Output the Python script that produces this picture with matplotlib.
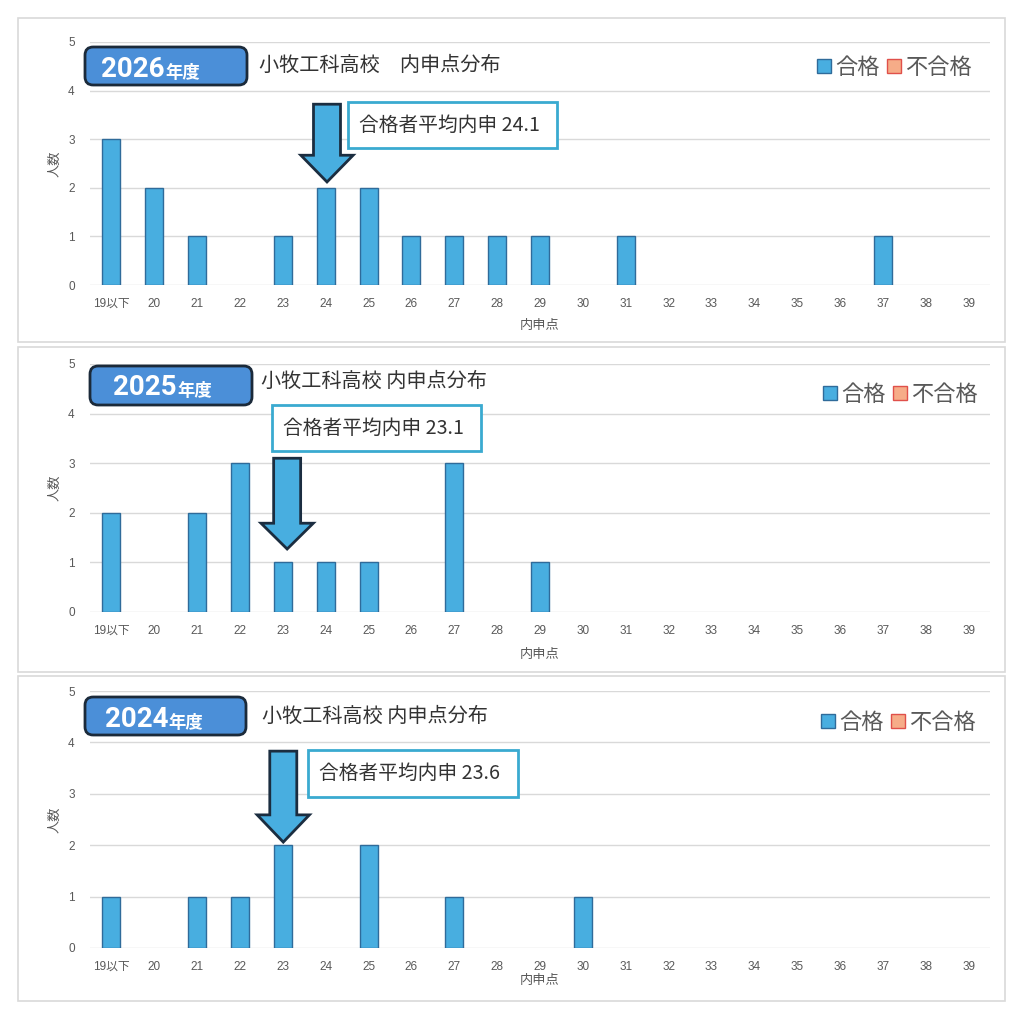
import numpy as np
import matplotlib
matplotlib.use('Agg')
import matplotlib.pyplot as plt
from matplotlib.patches import FancyBboxPatch, Rectangle, Polygon, Patch

# data
categories = ['19以下'] + [str(n) for n in range(20, 40)]
years = ['2026', '2025', '2024']
titles = ['小牧工科高校　内申点分布', '小牧工科高校 内申点分布', '小牧工科高校 内申点分布']
passed_2026 = [3, 2, 1, 0, 1, 2, 2, 1, 1, 1, 1, 0, 1, 0, 0, 0, 0, 0, 1, 0, 0]
passed_2025 = [2, 0, 2, 3, 1, 1, 1, 0, 3, 0, 1, 0, 0, 0, 0, 0, 0, 0, 0, 0, 0]
passed_2024 = [1, 0, 1, 1, 2, 0, 2, 0, 1, 0, 0, 1, 0, 0, 0, 0, 0, 0, 0, 0, 0]
failed_2026 = [0] * 21
failed_2025 = [0] * 21
failed_2024 = [0] * 21
passed = [passed_2026, passed_2025, passed_2024]
failed = [failed_2026, failed_2025, failed_2024]
mean_score = ['24.1', '23.1', '23.6']
# arrow annotation: category position, top and tip in y units
arrow_x = [5.03, 4.1, 4.01]
arrow_top = [3.72, 3.10, 3.83]
arrow_neck = [2.67, 1.79, 2.59]
arrow_tip = [2.12, 1.27, 2.06]

BLUE = '#48AEE0'
BLUE_EDGE = '#2F6B9A'
RED = '#F6AC88'
RED_EDGE = '#E0504A'
GRAY = '#595959'
GRID = '#D9D9D9'
CJK = ['Noto Sans CJK JP', 'DejaVu Sans']
MIXED = ['Liberation Sans', 'Noto Sans CJK JP']

plt.rcParams['font.family'] = CJK

W, H = 1024, 1022
fig = plt.figure(figsize=(W / 100, H / 100), dpi=100)


def fx(px):
    return px / W


def fy(py):
    return 1 - py / H


def bars(ax, xs, heights, color, edge):
    # zero counts get no bar (avoids a stray edge line on the axis)
    h = np.asarray(heights)
    keep = h > 0
    ax.bar(xs[keep], h[keep], width=0.42, color=color, edgecolor=edge, linewidth=1, zorder=3)


# layout in pixels (from top-left)
panel_box = [(18, 18, 1005, 342), (18, 347, 1005, 672), (18, 676, 1005, 1001)]
axes_box = [(90, 42, 990, 285), (90, 364, 990, 612), (90, 691, 990, 948)]
xlabel_pad = [7, 8, 1]
badge_box = [(85, 47, 247, 85), (90, 366, 252, 405), (85, 697, 246, 735)]
badge_split = [165, 177, 168]
badge_base = [77, 395, 727]
title_pos = [(259, 65), (261, 381), (262, 716)]
note_box = [(348, 102, 557, 148), (272, 405, 481, 451), (308, 750, 518, 797)]
legend_pos = [(972, 67), (978, 394), (976, 722)]

x = np.arange(len(categories))

for i in range(3):
    l, t, r, b = panel_box[i]
    fig.patches.append(Rectangle((fx(l), fy(b)), fx(r) - fx(l), fy(t) - fy(b),
                                 transform=fig.transFigure, fill=False,
                                 edgecolor=GRID, linewidth=1.2, zorder=0))

    l, t, r, b = axes_box[i]
    ax = fig.add_axes([fx(l), fy(b), fx(r) - fx(l), fy(t) - fy(b)])
    bars(ax, x, passed[i], BLUE, BLUE_EDGE)
    bars(ax, x, failed[i], RED, RED_EDGE)
    ax.set_xlim(-0.5, len(categories) - 0.5)
    ax.set_ylim(0, 5)
    ax.set_yticks(range(6))
    ax.set_xticks(x)
    ax.set_xticklabels(categories)
    ax.tick_params(length=0, labelsize=8.5, colors=GRAY)
    ax.tick_params(axis='x', pad=9)
    ax.tick_params(axis='y', pad=11)
    for lab in ax.get_xticklabels() + ax.get_yticklabels():
        lab.set_family(MIXED)
    ax.grid(axis='y', color=GRID, linewidth=1, zorder=0)
    for s in ax.spines.values():
        s.set_visible(False)
    ax.set_xlabel('内申点', fontsize=9.5, color=GRAY, labelpad=xlabel_pad[i])
    ax.set_ylabel('人数', fontsize=9.5, color=GRAY, labelpad=5)

    # arrow pointing at average
    cx = arrow_x[i]
    sw, hw = 0.315, 0.61
    pts = [(cx - sw, arrow_top[i]), (cx + sw, arrow_top[i]), (cx + sw, arrow_neck[i]),
           (cx + hw, arrow_neck[i]), (cx, arrow_tip[i]), (cx - hw, arrow_neck[i]),
           (cx - sw, arrow_neck[i])]
    ax.add_patch(Polygon(pts, closed=True, facecolor=BLUE, edgecolor='#1B2D40',
                         linewidth=2, joinstyle='miter', zorder=5, clip_on=False))

    h1 = Patch(facecolor=BLUE, edgecolor=BLUE_EDGE, label='合格')
    h2 = Patch(facecolor=RED, edgecolor=RED_EDGE, label='不合格')
    lx, ly = legend_pos[i]
    leg = ax.legend(handles=[h1, h2], loc='center right', bbox_to_anchor=(fx(lx), fy(ly)),
                    bbox_transform=fig.transFigure, ncol=2, frameon=False, fontsize=16,
                    handlelength=0.6, handleheight=0.6, handletextpad=0.2,
                    columnspacing=0.35, borderpad=0, borderaxespad=0)
    for txt in leg.get_texts():
        txt.set_color(GRAY)

    # year badge
    l, t, r, b = badge_box[i]
    fig.patches.append(FancyBboxPatch((fx(l), fy(b)), fx(r) - fx(l), fy(t) - fy(b),
                                      boxstyle='round,pad=0,rounding_size=0.008',
                                      transform=fig.transFigure, facecolor='#4B8FD8',
                                      edgecolor='#1B2A3A', linewidth=2, zorder=6))
    fig.text(fx(badge_split[i]), fy(badge_base[i]), years[i], ha='right', va='baseline',
             fontsize=20, fontweight='bold', color='white', family=['Roboto', 'DejaVu Sans'], zorder=7)
    fig.text(fx(badge_split[i]), fy(badge_base[i] + 1), '年度', ha='left', va='baseline',
             fontsize=12.5, fontweight='bold', color='white', zorder=7)

    tx, ty = title_pos[i]
    fig.text(fx(tx), fy(ty), titles[i], ha='left', va='center', fontsize=14.5, color='#333333')

    # average note box
    l, t, r, b = note_box[i]
    fig.patches.append(Rectangle((fx(l), fy(b)), fx(r) - fx(l), fy(t) - fy(b),
                                 transform=fig.transFigure, facecolor='white',
                                 edgecolor='#3AAAD0', linewidth=2, zorder=6))
    fig.text(fx(l + 11), fy((t + b) / 2), '合格者平均内申 ' + mean_score[i], ha='left', va='center',
             fontsize=14.2, color='#333333', family=CJK, zorder=7)

fig.savefig('out.png', dpi=100, facecolor='white')
